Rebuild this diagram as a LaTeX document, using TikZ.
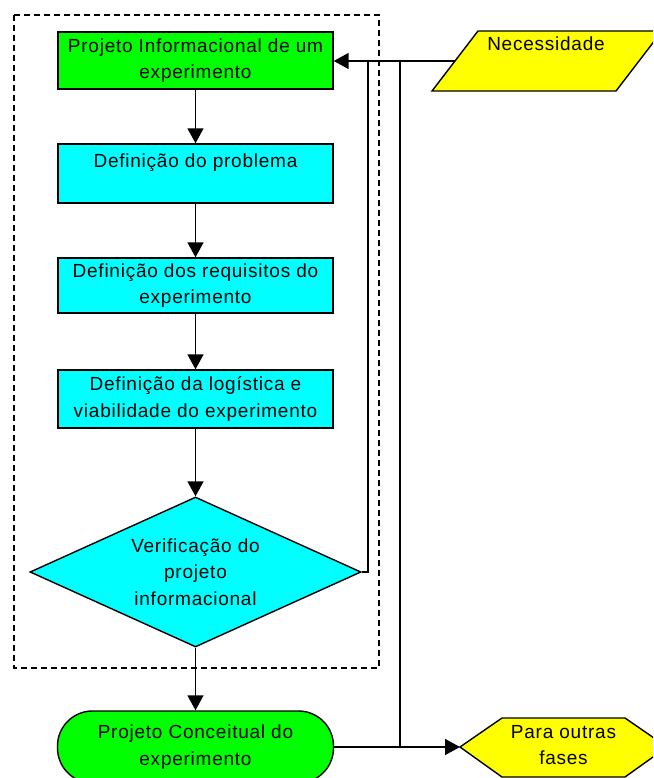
\documentclass[tikz,border=0pt]{standalone}
\usepackage{fontspec}
\setmainfont{Liberation Sans}[LetterSpace=4]
\usetikzlibrary{shapes.geometric,arrows.meta}
\definecolor{greenA}{RGB}{0,255,0}
\definecolor{cyanA}{RGB}{0,255,255}
\definecolor{yellowA}{RGB}{255,255,0}
\begin{document}
\begin{tikzpicture}[x=1pt,y=-1pt,
  every node/.style={font=\fontsize{19}{26.5}\selectfont, align=center, inner sep=0pt},
  procbox/.style={draw, line width=1.4pt, minimum width=275pt, fill=cyanA},
  arr/.style={line width=1.5pt, -{Triangle[length=15pt,width=16pt]}},
  ln/.style={line width=1.4pt}]
\clip (0,0) rectangle (653,778);
% dashed frame
\draw[line width=1.4pt, dash pattern=on 6pt off 4pt] (14,15) rectangle (379,668);
% nodes
\node[procbox, fill=greenA, minimum height=57pt] (b0) at (195.5,60.5) {Projeto Informacional de um\\experimento};
\node[procbox, minimum height=59pt] (b1) at (195.5,173.5) {Definição do problema\\\mbox{}};
\node[procbox, minimum height=55pt] (b2) at (195.5,285.5) {Definição dos requisitos do\\experimento};
\node[procbox, minimum height=58pt] (b3) at (195.5,399) {Definição da logística e\\viabilidade do experimento};
\node[draw, diamond, fill=cyanA, line width=1.4pt, aspect=2.2, minimum width=331pt, minimum height=150pt] (dia) at (195.5,572) {Verificação do\\projeto\\informacional};
\node[draw, fill=greenA, line width=1.4pt, rounded corners=35pt, minimum width=276pt, minimum height=72pt] (term) at (195.5,747) {Projeto Conceitual do\\experimento};
% parallelogram
\draw[line width=1.4pt, fill=yellowA] (432,91) -- (478,31) -- (662,31) -- (616,91) -- cycle;
\node (nec) at (546,44) {Necessidade};
\coordinate (necW) at (455,61);
% hexagon
\draw[line width=1.4pt, fill=yellowA] (460,747) -- (502,718) -- (625,718) -- (667,747) -- (625,777) -- (502,777) -- cycle;
\node (hex) at (563.5,745) {Para outras\\fases};
\coordinate (hexW) at (460,747);
% junction coordinates
\coordinate (jA) at (368,61);
\coordinate (jB) at (400,61);
\coordinate (jC) at (400,747);
% connectors
\draw[arr] (necW) -- (b0.east |- necW);
\draw[arr] (b0) -- (b1);
\draw[arr] (b1) -- (b2);
\draw[arr] (b2) -- (b3);
\draw[arr] (b3) -- (dia);
\draw[arr] (dia) -- (term);
\draw[ln] (dia.east) -| (jA);
\draw[ln] (jB) -- (jC);
\draw[arr] (term.east) -- (hexW);
\end{tikzpicture}
\end{document}
